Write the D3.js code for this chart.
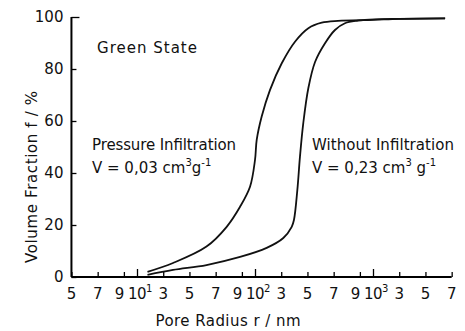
<!DOCTYPE html>
<html>
<head>
<meta charset="utf-8">
<script src="https://cdn.jsdelivr.net/npm/d3@7"></script>
<style>
  body { margin: 0; background: #fff; }
  svg text { font-family: "DejaVu Sans", sans-serif; fill: #111; }
</style>
</head>
<body>
<div id="chart"></div>
<script>
// pore radius (nm) and volume fraction (%)
const radiusPressure = [18, 37.5, 63, 78.4, 88.6, 96.2, 100, 113, 151, 214, 304, 405, 507, 609, 733, 1000, 3000, 6500];
const volumePressure = [2, 5.4, 11.7, 19.3, 27, 34.7, 45, 52.7, 61.7, 71.9, 82.2, 90.5, 95.7, 97.8, 98.5, 98.9, 99.3, 99.5];

const radiusWithout = [18, 37.5, 63, 88.6, 189, 316, 380, 397, 423, 443, 468, 507, 558, 634, 710, 786, 886, 1150, 3000, 6500];
const volumeWithout = [0.8, 2.7, 4.6, 7.7, 11.2, 15, 19.3, 21.9, 33.5, 46.3, 59.1, 72.7, 82.7, 89.9, 95, 97.6, 98.6, 99.1, 99.3, 99.5];

// x axis: linear inside each decade
const xTicks = [5, 7, 9, 10, 30, 50, 70, 90, 100, 300, 500, 700, 900, 1000, 3000, 5000, 7000];
const xTickLabels = ["5", "7", "9", "10^1", "3", "5", "7", "9", "10^2", "3", "5", "7", "9", "10^3", "3", "5", "7"];
const yTicks = [0, 20, 40, 60, 80, 100];

const width = 465, height = 331;

const svg = d3.select("#chart")
    .append("svg")
    .attr("width", width)
    .attr("height", height);

const x = d3.scaleLinear()
    .domain([1, 10, 100, 1000, 10000])
    .range([19, 137, 255, 373, 491]);

const y = d3.scaleLinear()
    .domain([0, 100])
    .range([277, 17]);

// x axis, ticks pointing up
const xAxis = svg.append("g")
    .attr("transform", `translate(0,${y(0)})`)
    .call(d3.axisTop(x)
        .tickValues(xTicks)
        .tickSize(5)
        .tickSizeOuter(0)
        .tickFormat(""));
xAxis.select(".domain").attr("d", `M${x(5)},0H${x(7000)}`).attr("stroke-width", 2);
xAxis.selectAll(".tick line")
    .attr("y2", d => [10, 100, 1000].includes(d) ? -8 : -5)
    .attr("stroke-width", 1.3);

xTicks.forEach((v, i) => {
    const lab = xTickLabels[i];
    const t = svg.append("text")
        .attr("y", 299)
        .style("font-size", "15px");
    if (lab.includes("^")) {
        const parts = lab.split("^");
        t.attr("x", x(v) - 9).attr("text-anchor", "start");
        t.append("tspan").style("letter-spacing", "-0.5px").text(parts[0]);
        t.append("tspan").attr("dy", -7).style("font-size", "10px").text(parts[1]);
    } else if (lab === "9") {
        t.attr("x", x(v) + 0.5).attr("text-anchor", "end").text(lab);
    } else {
        t.attr("x", x(v)).attr("text-anchor", "middle").text(lab);
    }
});

// y axis, ticks pointing right
const yAxis = svg.append("g")
    .attr("transform", `translate(${x(5)},0)`)
    .call(d3.axisRight(y)
        .tickValues(yTicks)
        .tickSize(5)
        .tickSizeOuter(0)
        .tickFormat(""));
yAxis.select(".domain").attr("d", `M0,${y(0)}V${y(100)}`).attr("stroke-width", 2);
yAxis.selectAll(".tick line")
    .attr("x2", d => d === 100 ? 8 : 5)
    .attr("stroke-width", 1.3);

svg.selectAll(".ylab")
    .data(yTicks)
    .enter()
    .append("text")
    .attr("class", "ylab")
    .attr("x", x(5) - 8)
    .attr("y", d => y(d) + 5)
    .attr("text-anchor", "end")
    .style("font-size", "15px")
    .text(d => d);

// curves
const line = d3.line()
    .x(d => x(d[0]))
    .y(d => y(d[1]))
    .curve(d3.curveCatmullRom.alpha(0.5));

svg.append("path")
    .datum(d3.zip(radiusPressure, volumePressure))
    .attr("d", line)
    .attr("fill", "none")
    .attr("stroke", "#111")
    .attr("stroke-width", 1.8);

svg.append("path")
    .datum(d3.zip(radiusWithout, volumeWithout))
    .attr("d", line)
    .attr("fill", "none")
    .attr("stroke", "#111")
    .attr("stroke-width", 1.8);

// annotations
function label(xp, yp, txt, len) {
    return svg.append("text")
        .attr("x", xp).attr("y", yp)
        .attr("textLength", len)
        .attr("lengthAdjust", "spacing")
        .style("font-size", "15px")
        .text(txt);
}

label(97, 53, "Green State", 100);
label(92, 150, "Pressure Infiltration", 144);
label(312, 150, "Without Infiltration", 142);

function volumeLabel(xp, yp, val, gap) {
    const t = svg.append("text")
        .attr("x", xp).attr("y", yp)
        .style("font-size", "15px");
    t.append("tspan").text(`V = ${val} cm`);
    t.append("tspan").attr("dy", -7).style("font-size", "10px").text("3");
    t.append("tspan").attr("dy", 7).text(gap + "g");
    t.append("tspan").attr("dy", -7).style("font-size", "10px").text("-1");
}
volumeLabel(92, 173, "0,03", "");
volumeLabel(312, 173, "0,23", " ");

// axis titles
svg.append("text")
    .attr("transform", "rotate(-90)")
    .attr("x", -177)
    .attr("y", 37)
    .attr("text-anchor", "middle")
    .attr("textLength", 172)
    .attr("lengthAdjust", "spacing")
    .style("font-size", "15px")
    .text("Volume Fraction  f / %");

svg.append("text")
    .attr("x", 228)
    .attr("y", 326)
    .attr("text-anchor", "middle")
    .attr("textLength", 145)
    .attr("lengthAdjust", "spacing")
    .style("font-size", "15px")
    .text("Pore Radius  r / nm");
</script>
</body>
</html>
